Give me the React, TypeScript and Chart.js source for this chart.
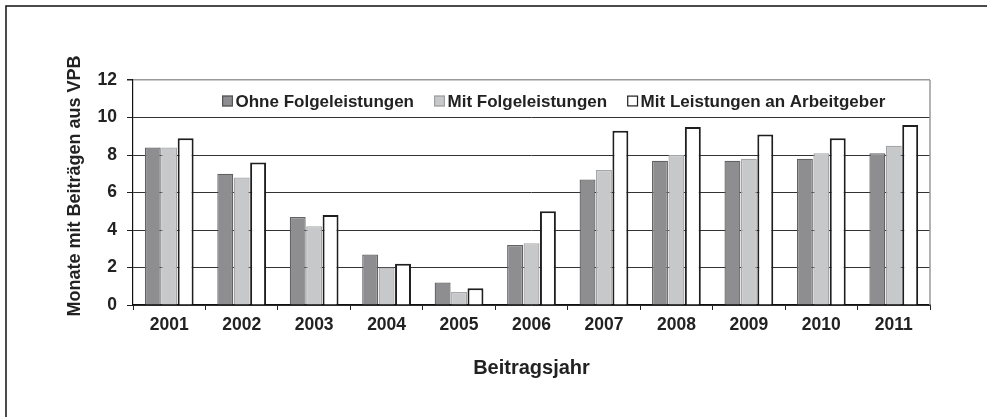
import React, { useEffect, useRef } from 'react';
import { Chart, registerables } from 'chart.js';

Chart.register(...registerables);

const years = ['2001', '2002', '2003', '2004', '2005', '2006', '2007', '2008', '2009', '2010', '2011'];
const ohneFolgeleistungen = [8.4, 7.0, 4.7, 2.7, 1.2, 3.2, 6.7, 7.7, 7.7, 7.8, 8.1];
const mitFolgeleistungen = [8.4, 6.8, 4.2, 2.0, 0.7, 3.3, 7.2, 8.0, 7.8, 8.1, 8.5];
const mitLeistungenArbeitgeber = [8.9, 7.6, 4.8, 2.2, 0.9, 5.0, 9.3, 9.5, 9.1, 8.9, 9.6];
const seriesLabels = ['Ohne Folgeleistungen', 'Mit Folgeleistungen', 'Mit Leistungen an Arbeitgeber'];
const yMin = 0;
const yMax = 12;
const yStep = 2;
const yTitle = 'Monate mit Beiträgen aus VPB';
const xTitle = 'Beitragsjahr';

const FONT = '"Liberation Sans", Arial, sans-serif';
const TEXT = '#222222';

const framePlugin = {
  id: 'outerFrame',
  beforeDraw(chart: any) {
    const { ctx, width, height } = chart;
    ctx.save();
    ctx.fillStyle = '#ffffff';
    ctx.fillRect(0, 0, width, height);
    ctx.strokeStyle = '#111111';
    ctx.lineWidth = 1.5;
    ctx.beginPath();
    ctx.moveTo(6, height);
    ctx.lineTo(6, 6);
    ctx.lineTo(width, 6);
    ctx.stroke();
    ctx.restore();
  },
  afterDraw(chart: any) {
    const { ctx, chartArea } = chart;
    ctx.save();
    ctx.strokeStyle = '#9a9a9a';
    ctx.lineWidth = 1.5;
    ctx.beginPath();
    ctx.moveTo(chartArea.right, chartArea.top);
    ctx.lineTo(chartArea.right, chartArea.bottom);
    ctx.stroke();
    // y axis title
    ctx.translate(75.5, (chartArea.top + chartArea.bottom) / 2 - 6.5);
    ctx.rotate(-Math.PI / 2);
    ctx.font = `bold 18px ${FONT}`;
    ctx.fillStyle = TEXT;
    ctx.textAlign = 'center';
    ctx.textBaseline = 'middle';
    ctx.fillText(yTitle, 0, 0);
    ctx.restore();
  },
};

const legendPlugin = {
  id: 'innerLegend',
  afterDatasetsDraw(chart: any) {
    const { ctx, chartArea } = chart;
    ctx.save();
    ctx.font = `bold 17px ${FONT}`;
    ctx.textBaseline = 'alphabetic';
    ctx.textAlign = 'left';
    let x = chartArea.left + 89;
    const cy = chartArea.top + 21;
    chart.data.datasets.forEach((ds: any) => {
      ctx.fillStyle = ds.backgroundColor;
      ctx.fillRect(x, cy - 5.5, 11, 11);
      ctx.strokeStyle = ds.legendBorder;
      ctx.lineWidth = 1.2;
      ctx.strokeRect(x + 0.6, cy - 4.9, 9.8, 9.8);
      ctx.fillStyle = TEXT;
      ctx.fillText(ds.label, x + 13.5, cy + 6.1);
      x += 13.5 + ctx.measureText(ds.label).width + 20;
    });
    ctx.restore();
  },
};

export default function App() {
  const ref = useRef<HTMLCanvasElement | null>(null);

  useEffect(() => {
    if (!ref.current) return;
    const chart = new Chart(ref.current, {
      type: 'bar',
      data: {
        labels: years,
        datasets: [
          {
            label: seriesLabels[0],
            data: ohneFolgeleistungen,
            backgroundColor: '#8e8e91',
            borderColor: '#626264',
            borderWidth: 1.3,
            legendBorder: '#555555',
          } as any,
          {
            label: seriesLabels[1],
            data: mitFolgeleistungen,
            backgroundColor: '#c7c8ca',
            borderColor: '#a5a5a7',
            borderWidth: 1.3,
            legendBorder: '#a0a0a0',
          } as any,
          {
            label: seriesLabels[2],
            data: mitLeistungenArbeitgeber,
            backgroundColor: '#ffffff',
            borderColor: '#1e1e1e',
            borderWidth: 2,
            legendBorder: '#1e1e1e',
          } as any,
        ],
      },
      options: {
        responsive: false,
        animation: false,
        layout: { padding: { top: 80, right: 57, left: 0, bottom: 0 } },
        datasets: { bar: { categoryPercentage: 0.68, barPercentage: 0.97 } },
        plugins: {
          legend: { display: false },
          tooltip: { enabled: false },
        },
        scales: {
          x: {
            offset: true,
            afterFit: (s: any) => {
              s.height = 112;
            },
            grid: {
              display: true,
              offset: true,
              drawOnChartArea: false,
              drawTicks: true,
              tickLength: 5,
              tickColor: '#222222',
              tickWidth: 1,
            },
            border: { display: true, color: '#111111', width: 1.2 },
            ticks: {
              color: TEXT,
              font: { family: FONT, size: 17.5, weight: 'bold' },
              padding: 5,
              maxRotation: 0,
            },
            title: {
              display: true,
              text: xTitle,
              color: TEXT,
              font: { family: FONT, size: 20, weight: 'bold' },
              padding: { top: 0, bottom: 37 },
            },
          },
          y: {
            min: yMin,
            max: yMax,
            afterFit: (s: any) => {
              s.width = 133;
            },
            grid: {
              color: (c: any) => (c.tick && c.tick.value === yMax ? '#9a9a9a' : '#333333'),
              lineWidth: (c: any) => (c.tick && c.tick.value === yMax ? 1.5 : 1),
              tickLength: 6,
              tickColor: '#222222',
            },
            border: { display: true, color: '#111111', width: 1.2 },
            ticks: {
              stepSize: yStep,
              color: TEXT,
              font: { family: FONT, size: 17.5, weight: 'bold' },
              padding: 10,
            },
            title: { display: false },
          },
        },
      } as any,
      plugins: [framePlugin, legendPlugin],
    });
    return () => chart.destroy();
  }, []);

  return (
    <div style={{ position: 'absolute', left: 0, top: 0, width: 987, height: 417 }}>
      <canvas ref={ref} width={987} height={417} style={{ display: 'block', width: 987, height: 417 }} />
    </div>
  );
}
